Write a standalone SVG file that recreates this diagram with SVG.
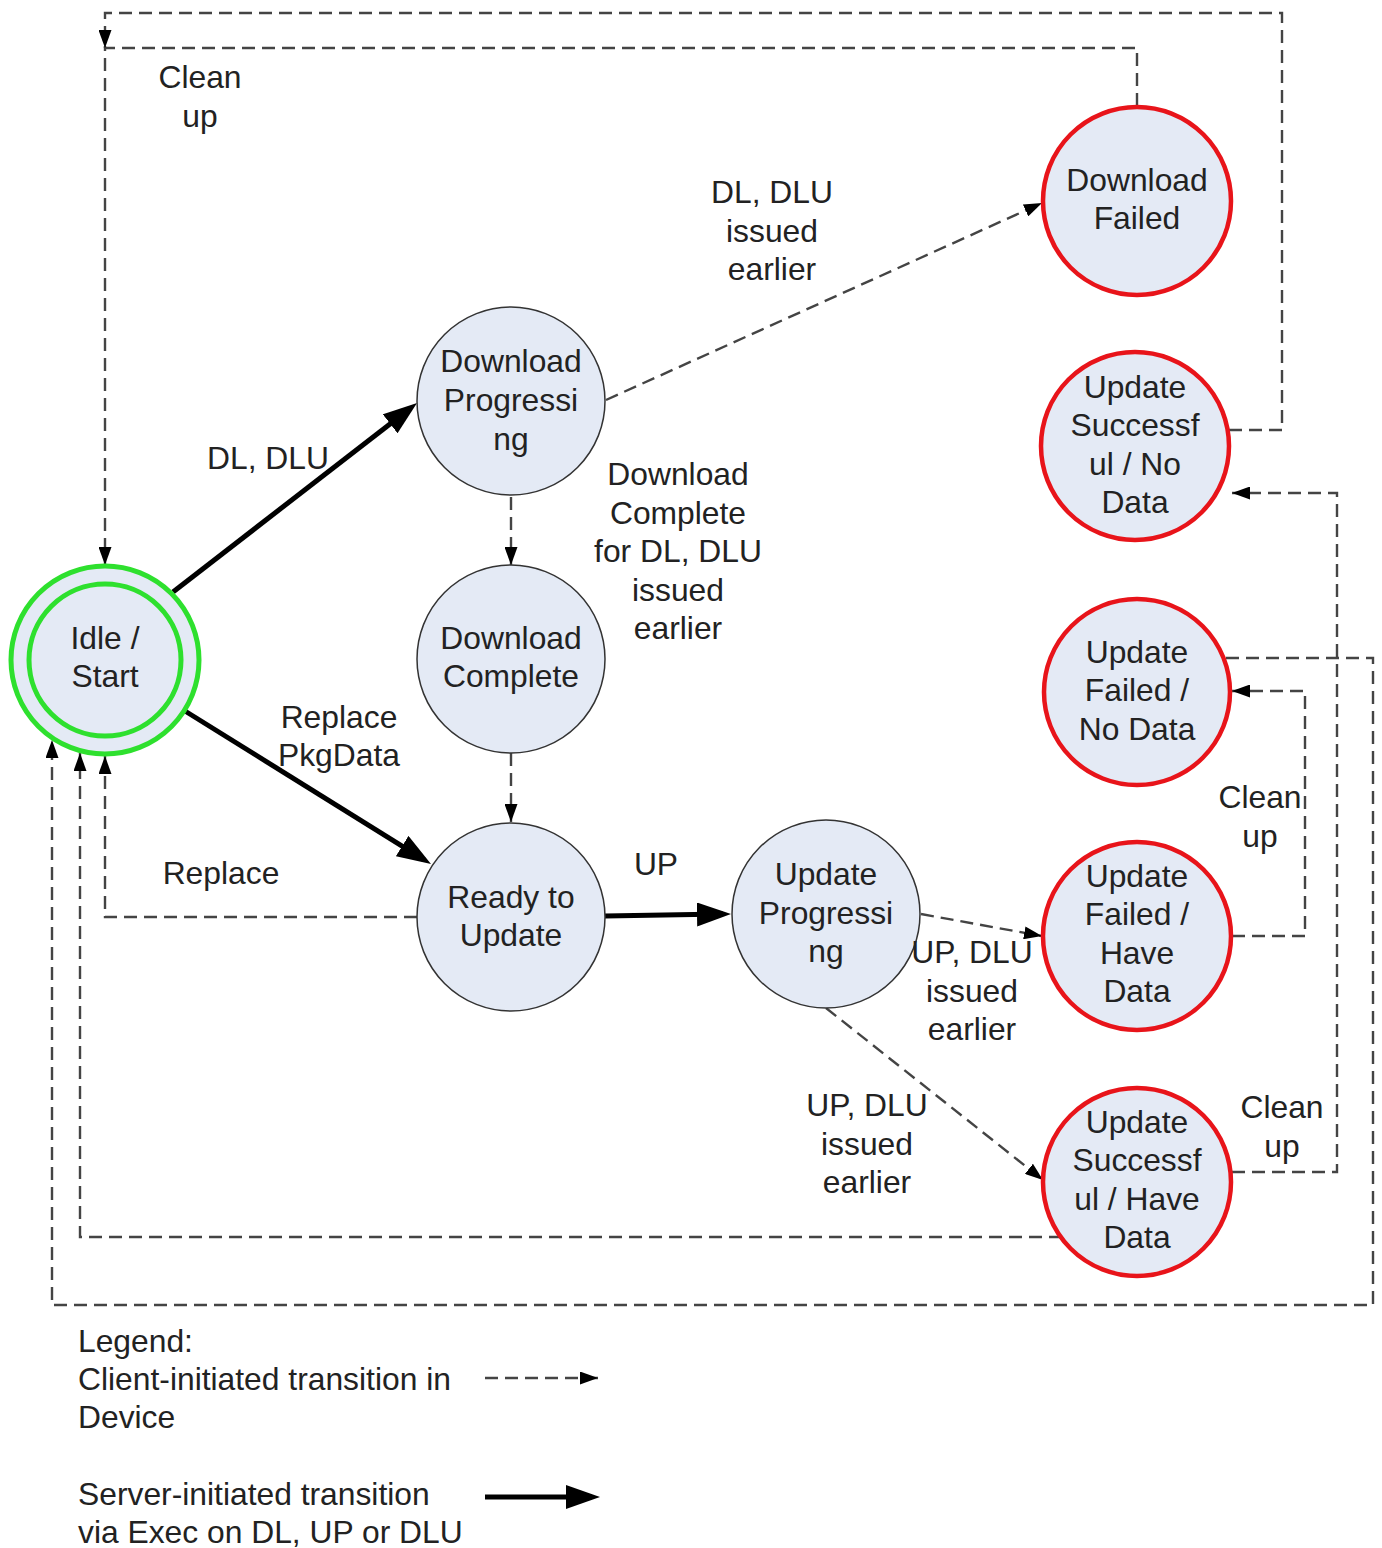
<svg xmlns="http://www.w3.org/2000/svg" width="1382" height="1548" viewBox="0 0 1382 1548">
<style>
text{font-family:"Liberation Sans",Arial,sans-serif;font-size:31.8px;fill:#222;text-anchor:middle}
.l{text-anchor:start}
.n{fill:#e4eaf5;stroke:#333;stroke-width:1.5}
.r{fill:#e4eaf5;stroke:#e8141a;stroke-width:4.5}
.g{fill:#e4eaf5;stroke:#2ee02e;stroke-width:5}
.d{fill:none;stroke:#444;stroke-width:2.4;stroke-dasharray:13 7}
.s{fill:none;stroke:#000;stroke-width:5}
</style>
<defs>
<marker id="ah" markerUnits="userSpaceOnUse" markerWidth="18" markerHeight="13" refX="18" refY="6.5" orient="auto"><path d="M0,0 L18,6.5 L0,13 z" fill="#000"/></marker>
<marker id="AH" markerUnits="userSpaceOnUse" markerWidth="34" markerHeight="24" refX="26" refY="12" orient="auto"><path d="M0,0 L34,12 L0,24 z" fill="#000"/></marker>
</defs>
<g id="connectors">
<path class="s" d="M173,592 L410.7,407.9" marker-end="url(#AH)"/>
<path class="s" d="M185,711 L424.2,859.8" marker-end="url(#AH)"/>
<path class="s" d="M605,916 L723,914.1" marker-end="url(#AH)"/>
<path class="d" d="M511,497 V565" marker-end="url(#ah)"/>
<path class="d" d="M511,753 V822" marker-end="url(#ah)"/>
<path class="d" d="M606,400 L1042,203" marker-end="url(#ah)"/>
<path class="d" d="M921,914 L1042,936" marker-end="url(#ah)"/>
<path class="d" d="M826,1008 L1043,1180" marker-end="url(#ah)"/>
<path class="d" d="M417,917 H105 V756" marker-end="url(#ah)"/>
<path class="d" d="M1137,106 V48 H105 V565" marker-end="url(#ah)"/>
<path class="d" d="M1229,430 H1282 V13 H105 V48" marker-end="url(#ah)"/>
<path class="d" d="M1232,1172 H1337 V493 H1232" marker-end="url(#ah)"/>
<path class="d" d="M1232,936 H1305 V691 H1232" marker-end="url(#ah)"/>
<path class="d" d="M1226,658 H1373 V1305 H52 V740" marker-end="url(#ah)"/>
<path class="d" d="M1062,1237 H80 V753" marker-end="url(#ah)"/>
</g>
<g id="idle"><circle class="g" cx="105" cy="660" r="94"/><circle class="g" cx="105" cy="660" r="76"/><text x="105" y="649">Idle /</text><text x="105" y="687">Start</text></g>
<g id="dlprog"><circle class="n" cx="511" cy="401" r="94"/><text x="511" y="372">Download</text><text x="511" y="411">Progressi</text><text x="511" y="450">ng</text></g>
<g id="dlcomplete"><circle class="n" cx="511" cy="659" r="94"/><text x="511" y="649">Download</text><text x="511" y="687">Complete</text></g>
<g id="ready"><circle class="n" cx="511" cy="917" r="94"/><text x="511" y="908">Ready to</text><text x="511" y="946">Update</text></g>
<g id="upprog"><circle class="n" cx="826" cy="914" r="94"/><text x="826" y="885">Update</text><text x="826" y="924">Progressi</text><text x="826" y="962">ng</text></g>
<g id="dlfailed"><circle class="r" cx="1137" cy="201" r="94"/><text x="1137" y="191">Download</text><text x="1137" y="229">Failed</text></g>
<g id="usnd"><circle class="r" cx="1135" cy="446" r="94"/><text x="1135" y="398">Update</text><text x="1135" y="436">Successf</text><text x="1135" y="475">ul / No</text><text x="1135" y="513">Data</text></g>
<g id="ufnd"><circle class="r" cx="1137" cy="692" r="93"/><text x="1137" y="663">Update</text><text x="1137" y="701">Failed /</text><text x="1137" y="740">No Data</text></g>
<g id="ufhd"><circle class="r" cx="1137" cy="936" r="94"/><text x="1137" y="887">Update</text><text x="1137" y="925">Failed /</text><text x="1137" y="964">Have</text><text x="1137" y="1002">Data</text></g>
<g id="ushd"><circle class="r" cx="1137" cy="1182" r="94"/><text x="1137" y="1133">Update</text><text x="1137" y="1171">Successf</text><text x="1137" y="1210">ul / Have</text><text x="1137" y="1248">Data</text></g>
<g id="labels">
<text x="200" y="88">Clean</text><text x="200" y="127">up</text>
<text x="772" y="203">DL, DLU</text><text x="772" y="242">issued</text><text x="772" y="280">earlier</text>
<text x="268" y="469">DL, DLU</text>
<text x="678" y="485">Download</text><text x="678" y="524">Complete</text><text x="678" y="562">for DL, DLU</text><text x="678" y="601">issued</text><text x="678" y="639">earlier</text>
<text x="339" y="728">Replace</text><text x="339" y="766">PkgData</text>
<text x="1260" y="808">Clean</text><text x="1260" y="847">up</text>
<text x="221" y="884">Replace</text>
<text x="656" y="875">UP</text>
<text x="972" y="963">UP, DLU</text><text x="972" y="1002">issued</text><text x="972" y="1040">earlier</text>
<text x="867" y="1116">UP, DLU</text><text x="867" y="1155">issued</text><text x="867" y="1193">earlier</text>
<text x="1282" y="1118">Clean</text><text x="1282" y="1157">up</text>
</g>
<g id="legend">
<text class="l" x="78" y="1352">Legend:</text>
<text class="l" x="78" y="1390">Client-initiated transition in</text>
<text class="l" x="78" y="1428">Device</text>
<text class="l" x="78" y="1505">Server-initiated transition</text>
<text class="l" x="78" y="1543">via Exec on DL, UP or DLU</text>
<path class="d" d="M485,1378 H598" marker-end="url(#ah)"/>
<path class="s" d="M485,1497 H592" marker-end="url(#AH)"/>
</g>
</svg>
